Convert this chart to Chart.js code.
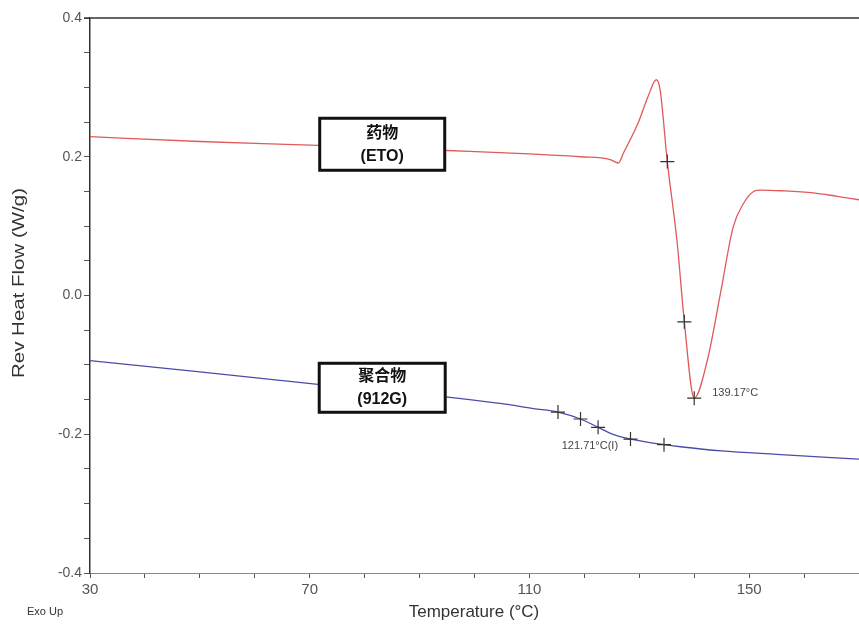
<!DOCTYPE html>
<html>
<head>
<meta charset="utf-8">
<script src="https://cdn.jsdelivr.net/npm/chart.js@4.4.1/dist/chart.umd.min.js"></script>
<style>
html, body { margin: 0; padding: 0; background: #fff; overflow: hidden; }
canvas { display: block; }
</style>
</head>
<body>
<canvas id="dscChart" width="859" height="625"></canvas>
<script>
// Reversing heat flow (W/g) vs temperature (°C)
var etoTemp = [30, 50, 71.5, 95, 110, 119.3, 124.7, 126.2, 127.1, 129.8, 131.6, 133.1, 133.8, 135.1, 136.9, 138.2, 140.0, 142.4, 144.8, 147.1, 149.0, 150.8, 152.0, 156, 161.7, 166, 170];
var etoFlow = [0.229, 0.222, 0.2165, 0.209, 0.204, 0.200, 0.196, 0.191, 0.205, 0.249, 0.287, 0.311, 0.296, 0.193, 0.076, -0.038, -0.148, -0.093, 0.004, 0.099, 0.133, 0.150, 0.152, 0.151, 0.148, 0.143, 0.138];

var polyTemp = [30, 50, 71.5, 94.7, 105, 110.7, 115.2, 119.3, 122.5, 125.5, 128.4, 134.5, 137.5, 145, 155, 170];
var polyFlow = [-0.094, -0.110, -0.128, -0.146, -0.156, -0.163, -0.168, -0.178, -0.190, -0.201, -0.207, -0.215, -0.218, -0.224, -0.229, -0.236];

// analysis markers (+) sitting on each trace
var etoMarkTemp = [135.1, 138.2, 140.0];
var etoMarkFlow = [0.193, -0.038, -0.148];
var polyMarkTemp = [115.2, 119.3, 122.5, 128.4, 134.5];
var polyMarkFlow = [-0.168, -0.178, -0.190, -0.207, -0.215];

var xTickLabels = [30, 70, 110, 150];
var yTickLabels = [-0.4, -0.2, 0.0, 0.2, 0.4];

function toPoints(xs, ys) {
    return xs.map(function (x, i) { return { x: x, y: ys[i] }; });
}

function inList(list, v) {
    return list.some(function (t) { return Math.abs(t - v) < 1e-6; });
}

// text boxes and labels drawn on top of the plot
var annotations = {
    id: 'annotations',
    afterDraw: function (chart) {
        var ctx = chart.ctx;
        var area = chart.chartArea;
        var xs = chart.scales.x, ys = chart.scales.y;
        ctx.save();

        // top frame line
        ctx.strokeStyle = '#333';
        ctx.lineWidth = 1.5;
        ctx.beginPath();
        ctx.moveTo(area.left - 6, area.top);
        ctx.lineTo(area.right, area.top);
        ctx.stroke();

        function box(cx, cy, w, h, line1, line2) {
            ctx.fillStyle = '#fff';
            ctx.fillRect(cx - w / 2, cy - h / 2, w, h);
            ctx.strokeStyle = '#111';
            ctx.lineWidth = 3;
            ctx.strokeRect(cx - w / 2, cy - h / 2, w, h);
            ctx.fillStyle = '#111';
            ctx.textAlign = 'center';
            ctx.textBaseline = 'middle';
            ctx.font = 'bold 16px "Liberation Sans", "Noto Sans CJK SC", sans-serif';
            ctx.fillText(line1, cx, cy - 11);
            ctx.fillText(line2, cx, cy + 12);
        }
        box(xs.getPixelForValue(83.2), ys.getPixelForValue(0.218), 125, 52, '药物', '(ETO)');
        box(xs.getPixelForValue(83.2), ys.getPixelForValue(-0.133), 126, 49, '聚合物', '(912G)');

        // marker readouts
        ctx.fillStyle = '#444';
        ctx.font = '11px "Liberation Sans", sans-serif';
        ctx.textBaseline = 'middle';
        ctx.textAlign = 'left';
        ctx.fillText('139.17°C', xs.getPixelForValue(etoMarkTemp[2]) + 18, ys.getPixelForValue(etoMarkFlow[2]) - 5);
        ctx.textAlign = 'right';
        ctx.fillText('121.71°C(I)', xs.getPixelForValue(polyMarkTemp[2]) + 20, ys.getPixelForValue(polyMarkFlow[2]) + 19);

        // axis titles
        ctx.fillStyle = '#333';
        ctx.textAlign = 'center';
        ctx.font = '17px "Liberation Sans", sans-serif';
        ctx.fillText('Temperature (°C)', 474, 612);

        ctx.save();
        ctx.translate(19, 283);
        ctx.rotate(-Math.PI / 2);
        var title = 'Rev Heat Flow (W/g)';
        var w = ctx.measureText(title).width;
        ctx.scale(190 / w, 1);
        ctx.fillText(title, 0, 0);
        ctx.restore();

        ctx.textAlign = 'left';
        ctx.font = '11px "Liberation Sans", sans-serif';
        ctx.fillText('Exo Up', 27, 612);
        ctx.restore();
    }
};

new Chart(document.getElementById('dscChart'), {
    type: 'scatter',
    data: {
        datasets: [{
            label: 'ETO markers',
            data: toPoints(etoMarkTemp, etoMarkFlow),
            pointStyle: 'cross',
            pointRadius: 7,
            borderColor: '#333',
            borderWidth: 1.2,
            order: 0
        }, {
            label: '912G markers',
            data: toPoints(polyMarkTemp, polyMarkFlow),
            pointStyle: 'cross',
            pointRadius: 7,
            borderColor: '#333',
            borderWidth: 1.2,
            order: 0
        }, {
            label: '药物 (ETO)',
            data: toPoints(etoTemp, etoFlow),
            showLine: true,
            pointRadius: 0,
            borderColor: '#e05a5a',
            borderWidth: 1.3,
            cubicInterpolationMode: 'monotone',
            order: 1
        }, {
            label: '聚合物 (912G)',
            data: toPoints(polyTemp, polyFlow),
            showLine: true,
            pointRadius: 0,
            borderColor: '#4b4bac',
            borderWidth: 1.3,
            cubicInterpolationMode: 'monotone',
            order: 1
        }]
    },
    options: {
        responsive: false,
        animation: false,
        devicePixelRatio: 1,
        layout: { autoPadding: false, padding: { top: 18, left: 0, right: 0, bottom: 0 } },
        plugins: {
            legend: { display: false },
            tooltip: { enabled: false }
        },
        scales: {
            x: {
                type: 'linear',
                min: 30,
                max: 170,
                afterFit: function (scale) {
                    scale.height = 52;
                    scale.paddingLeft = 0;
                    scale.paddingRight = 0;
                },
                border: { color: '#888', width: 1 },
                grid: { drawOnChartArea: false, drawTicks: true, tickLength: 5, tickColor: '#555' },
                ticks: {
                    stepSize: 10,
                    autoSkip: false,
                    maxRotation: 0,
                    padding: 3,
                    color: '#555',
                    font: { family: '"Liberation Sans", sans-serif', size: 15 },
                    callback: function (v) { return inList(xTickLabels, v) ? String(v) : ''; }
                }
            },
            y: {
                type: 'linear',
                min: -0.4,
                max: 0.4,
                afterFit: function (scale) {
                    scale.width = 90;
                    scale.paddingTop = 0;
                    scale.paddingBottom = 0;
                },
                border: { color: '#333', width: 1.5 },
                grid: { drawOnChartArea: false, drawTicks: true, tickLength: 6, tickColor: '#555' },
                ticks: {
                    stepSize: 0.05,
                    autoSkip: false,
                    padding: 2,
                    color: '#555',
                    font: { family: '"Liberation Sans", sans-serif', size: 14 },
                    callback: function (v) { return inList(yTickLabels, v) ? v.toFixed(1) : ''; }
                }
            }
        }
    },
    plugins: [annotations]
});
</script>
</body>
</html>
